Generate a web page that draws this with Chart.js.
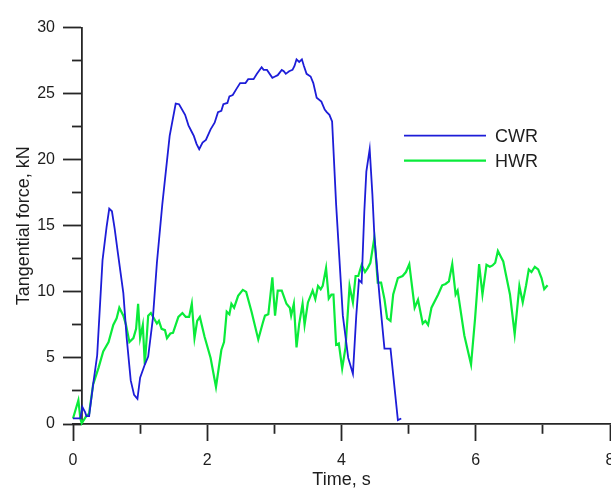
<!DOCTYPE html>
<html>
<head>
<meta charset="utf-8">
<script src="https://cdn.jsdelivr.net/npm/chart.js@4.4.0/dist/chart.umd.min.js"></script>
<style>
    html, body { margin: 0; padding: 0; overflow: hidden; background: #ffffff; }
    #wrap { width: 640px; height: 488px; }
</style>
</head>
<body>
<div id="wrap"><canvas id="forceChart" width="640" height="488"></canvas></div>
<script>
// Tangential force vs time, two wheel-rail cases
const cwrTime = [0, 0.11, 0.14, 0.18, 0.20, 0.24, 0.30, 0.36, 0.44, 0.50, 0.54, 0.58, 0.62, 0.67, 0.75, 0.80, 0.86, 0.91, 0.96, 1.00,
    1.07, 1.12, 1.19, 1.25, 1.33, 1.44, 1.53, 1.58, 1.67, 1.72, 1.77, 1.80, 1.84, 1.88, 1.93, 1.98, 2.05, 2.11, 2.16, 2.21,
    2.24, 2.30, 2.33, 2.38, 2.44, 2.49, 2.57, 2.61, 2.69, 2.74, 2.81, 2.84, 2.89, 2.97, 3.01, 3.05, 3.11, 3.14, 3.17, 3.22,
    3.27, 3.30, 3.33, 3.37, 3.41, 3.44, 3.48, 3.54, 3.58, 3.63, 3.70, 3.75, 3.78, 3.82, 3.86, 3.92, 4.02, 4.10, 4.17, 4.22,
    4.26, 4.30, 4.34, 4.37, 4.42, 4.46, 4.49, 4.57, 4.64, 4.73, 4.84, 4.89];
const cwrForce = [0.42, 0.42, 1.28, 0.9, 0.6, 0.6, 3.0, 5.2, 12.4, 14.9, 16.3, 16.1, 14.8, 12.9, 9.9, 6.5, 3.3, 2.2, 1.9, 3.5,
    4.5, 5.1, 8.0, 12.2, 16.6, 21.8, 24.25, 24.2, 23.4, 22.6, 22.1, 21.8, 21.2, 20.8, 21.3, 21.5, 22.3, 22.8, 23.6, 23.7,
    24.2, 24.3, 24.8, 24.9, 25.4, 25.8, 25.8, 26.1, 26.1, 26.5, 27.0, 26.8, 26.8, 26.2, 26.3, 26.4, 26.8, 26.7, 26.5, 26.7,
    26.8, 27.1, 27.6, 27.4, 27.6, 27.1, 26.5, 26.3, 25.8, 24.7, 24.4, 23.8, 23.6, 23.4, 22.9, 16.6, 8.2, 5.0, 3.8, 8.2,
    10.9, 10.7, 16.1, 19.1, 20.8, 17.4, 14.2, 9.45, 5.7, 5.7, 0.3, 0.42];

const hwrTime = [0, 0.08, 0.11, 0.13, 0.19, 0.24, 0.30, 0.38, 0.45, 0.53, 0.60, 0.65, 0.69, 0.75, 0.79, 0.84, 0.90, 0.94, 0.97, 1.00,
    1.04, 1.07, 1.12, 1.16, 1.25, 1.28, 1.32, 1.37, 1.40, 1.45, 1.49, 1.57, 1.63, 1.68, 1.73, 1.77, 1.81, 1.85, 1.89, 1.96,
    2.05, 2.13, 2.21, 2.25, 2.29, 2.33, 2.36, 2.40, 2.46, 2.53, 2.58, 2.66, 2.76, 2.83, 2.86, 2.91, 2.97, 3.01, 3.05, 3.11,
    3.18, 3.23, 3.25, 3.29, 3.33, 3.37, 3.42, 3.45, 3.50, 3.57, 3.61, 3.65, 3.69, 3.72, 3.77, 3.81, 3.85, 3.88, 3.92, 3.96,
    4.01, 4.06, 4.12, 4.17, 4.21, 4.25, 4.30, 4.35, 4.39, 4.43, 4.49, 4.54, 4.59, 4.64, 4.68, 4.73, 4.77, 4.84, 4.91, 4.96,
    5.01, 5.09, 5.14, 5.21, 5.25, 5.29, 5.34, 5.44, 5.50, 5.55, 5.60, 5.65, 5.70, 5.73, 5.83, 5.93, 5.99, 6.05, 6.10, 6.16,
    6.21, 6.25, 6.29, 6.33, 6.37, 6.41, 6.45, 6.51, 6.58, 6.65, 6.70, 6.75, 6.79, 6.83, 6.88, 6.93, 6.98, 7.02, 7.07];
const hwrForce = [0.42, 1.8, 0.42, 0.05, 0.54, 0.8, 3.0, 4.25, 5.5, 6.2, 7.5, 8.0, 8.8, 8.2, 7.5, 6.2, 6.5, 7.2, 9.1, 6.5,
    7.5, 4.5, 8.2, 8.4, 7.6, 7.8, 7.2, 7.1, 6.5, 6.85, 6.9, 8.1, 8.4, 8.1, 8.1, 9.1, 6.5, 7.8, 8.1, 6.6,
    5.0, 2.8, 5.6, 6.2, 8.5, 8.3, 9.1, 8.8, 9.7, 10.15, 10.0, 8.5, 6.4, 7.7, 8.2, 8.3, 11.1, 8.2, 10.1, 10.1,
    9.1, 8.8, 8.2, 9.1, 5.8, 7.6, 9.1, 7.5, 9.2, 10.1, 9.45, 10.45, 10.2, 10.45, 11.8, 9.5, 9.8, 9.8, 6.0, 6.1,
    4.2, 5.8, 10.45, 9.2, 11.2, 11.2, 12.05, 11.5, 11.8, 12.2, 14.1, 10.7, 10.7, 9.45, 8.0, 7.8, 9.8, 11.05, 11.2, 11.5,
    12.1, 8.8, 9.4, 7.6, 7.8, 7.5, 8.8, 9.8, 10.5, 10.6, 10.8, 12.1, 9.8, 10.1, 6.7, 4.5, 8.0, 12.1, 9.8, 12.05,
    11.9, 12.0, 12.2, 13.1, 12.7, 12.3, 11.3, 9.8, 6.8, 10.45, 9.2, 10.5, 11.7, 11.5, 11.9, 11.7, 11.05, 10.2, 10.5];

const seriesNames = ['CWR', 'HWR'];
const xTicks = [0, 2, 4, 6, 8];
const yTicks = [0, 5, 10, 15, 20, 25, 30];

const axisColor = '#262626';
const textColor = '#1e1e1e';
const fontFamily = '"Liberation Sans", Arial, sans-serif';

Chart.defaults.color = textColor;
Chart.defaults.font.family = fontFamily;

function toPoints(xs, ys) {
    return xs.map((x, i) => ({ x: x, y: ys[i] }));
}

// legend sits inside the plot, to the right of the big CWR hump
const insideLegend = {
    id: 'insideLegend',
    afterDatasetsDraw(chart) {
        const { ctx, chartArea } = chart;
        const x0 = chartArea.left + 331;
        const y0 = chartArea.top + 108;
        chart.data.datasets.forEach((ds, i) => {
            const y = y0 + i * 25;
            ctx.save();
            ctx.strokeStyle = ds.borderColor;
            ctx.lineWidth = ds.borderWidth;
            ctx.beginPath();
            ctx.moveTo(x0, y);
            ctx.lineTo(x0 + 82, y);
            ctx.stroke();
            ctx.fillStyle = textColor;
            ctx.font = '18px ' + fontFamily;
            ctx.textBaseline = 'middle';
            ctx.fillText(ds.label, x0 + 91, y + 1);
            ctx.restore();
        });
    }
};

const ctx = document.getElementById('forceChart');
new Chart(ctx, {
    type: 'line',
    data: {
        datasets: [{
            label: seriesNames[0],
            data: toPoints(cwrTime, cwrForce),
            borderColor: '#1d1dd8',
            borderWidth: 1.8,
            pointRadius: 0,
            tension: 0,
            clip: false
        }, {
            label: seriesNames[1],
            data: toPoints(hwrTime, hwrForce),
            borderColor: '#0aeb3a',
            borderWidth: 2.2,
            pointRadius: 0,
            tension: 0,
            clip: false
        }]
    },
    options: {
        responsive: false,
        animation: false,
        events: [],
        layout: {
            padding: { left: 0, top: 19, right: 30, bottom: 0 }
        },
        plugins: {
            legend: { display: false },
            tooltip: { enabled: false }
        },
        scales: {
            x: {
                type: 'linear',
                position: 'bottom',
                min: xTicks[0],
                max: xTicks[xTicks.length - 1],
                afterFit: (scale) => { scale.height = 64; },
                border: { display: true, color: axisColor, width: 1.8 },
                grid: {
                    drawOnChartArea: false,
                    drawTicks: true,
                    tickLength: 17,
                    tickWidth: 1.8,
                    tickColor: axisColor,
                    // minor ticks are the short ones between labels
                    tickBorderDash: (c) => xTicks.includes(c.tick.value) ? [] : [9, 40]
                },
                ticks: {
                    stepSize: 1,
                    autoSkip: false,
                    maxRotation: 0,
                    padding: 10,
                    font: { size: 16 },
                    callback: (v) => xTicks.includes(v) ? v : ''
                },
                title: {
                    display: true,
                    text: 'Time, s',
                    font: { size: 18, lineHeight: 1 },
                    padding: { top: 0, bottom: -1 }
                }
            },
            y: {
                type: 'linear',
                position: 'left',
                min: yTicks[0],
                max: yTicks[yTicks.length - 1],
                afterFit: (scale) => { scale.width = 73; },
                border: { display: false },
                grid: { display: false, drawTicks: false },
                ticks: {
                    stepSize: 5,
                    padding: 18,
                    font: { size: 16 }
                },
                title: {
                    display: true,
                    text: 'Tangential force, kN',
                    font: { size: 18 },
                    padding: { top: 13, bottom: 0 }
                }
            },
            // the axis line itself stands a little right of t = 0
            yLine: {
                type: 'linear',
                position: { x: 0.134 },
                min: yTicks[0],
                max: yTicks[yTicks.length - 1],
                border: { display: true, color: axisColor, width: 1.8 },
                grid: {
                    drawOnChartArea: false,
                    drawTicks: true,
                    tickLength: 18,
                    tickWidth: 1.8,
                    tickColor: axisColor,
                    tickBorderDash: (c) => yTicks.includes(c.tick.value) ? [] : [9, 40]
                },
                ticks: {
                    display: false,
                    stepSize: 2.5
                }
            }
        }
    },
    plugins: [insideLegend]
});
</script>
</body>
</html>
